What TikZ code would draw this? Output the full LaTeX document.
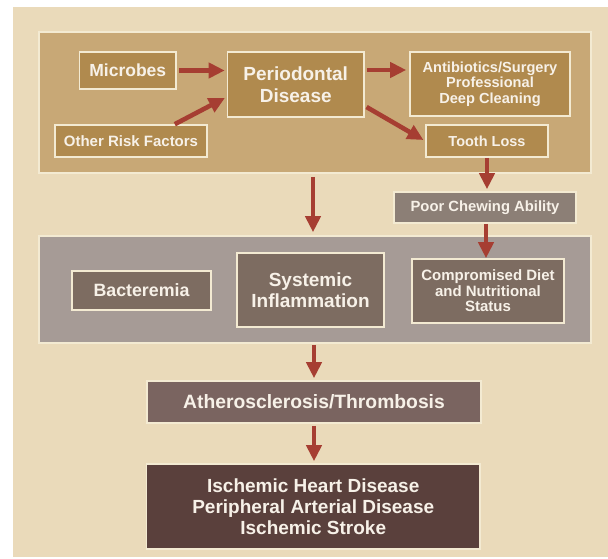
\documentclass[tikz,border=0pt]{standalone}
\usepackage{fontspec}
\setmainfont{Liberation Sans}
\usetikzlibrary{arrows.meta,calc}
\definecolor{bgc}{HTML}{EADABA}
\definecolor{toppanelc}{HTML}{C8A876}
\definecolor{topboxc}{HTML}{B08A4E}
\definecolor{poorc}{HTML}{8C7F76}
\definecolor{midpanelc}{HTML}{A69B96}
\definecolor{midboxc}{HTML}{7D6C61}
\definecolor{atheroc}{HTML}{7A6460}
\definecolor{ischc}{HTML}{5A403C}
\definecolor{arrowc}{HTML}{A63E32}
\definecolor{edgec}{HTML}{F3EAD2}
\definecolor{txtc}{HTML}{F7F1E8}
\newcommand{\fs}[2]{\bfseries\fontsize{#1}{#2}\selectfont}
\begin{document}
\begin{tikzpicture}[x=1pt,y=-1pt,
  box/.style={draw=edgec, line width=1.6pt, text=txtc, align=center, inner sep=0pt, anchor=center},
  arr/.style={draw=arrowc, line width=4.6pt, -{Triangle[width=15pt,length=16pt]}}]
\useasboundingbox (0,0) rectangle (608,559);
\fill[white] (0,0) rectangle (608,559);
\fill[bgc] (13,7) rectangle (608,557);
% panels
\node[box, fill=toppanelc, minimum width=552pt, minimum height=141pt] (toppanel) at (315,102.5) {};
\node[box, fill=midpanelc, minimum width=552pt, minimum height=107pt] (middle) at (315,289.5) {};
% top boxes
\node[box, fill=topboxc, minimum width=96.5pt, minimum height=37pt, font=\fs{17.5}{20}] (microbes) at (127.75,70.5) {Microbes};
\node[box, fill=topboxc, minimum width=136.5pt, minimum height=65pt, font=\fs{19}{22.5}] (periodontal) at (295.75,84.5) {Periodontal\\Disease};
\node[box, fill=topboxc, minimum width=160pt, minimum height=64pt, font=\fs{14.6}{15.5}] (antibiotics) at (490,84) {Antibiotics/Surgery\\Professional\\Deep Cleaning};
\node[box, fill=topboxc, minimum width=152pt, minimum height=32pt, font=\fs{15}{17}] (other) at (131,141) {Other Risk Factors};
\node[box, fill=topboxc, minimum width=122pt, minimum height=32pt, font=\fs{14.5}{17}] (tooth) at (487,141) {Tooth Loss};
\node[box, fill=poorc, minimum width=182pt, minimum height=31pt, font=\fs{14.8}{17}] (poor) at (485,207.5) {Poor Chewing Ability};
% middle boxes
\node[box, fill=midboxc, minimum width=139pt, minimum height=39pt, font=\fs{17.8}{20}] (bacteremia) at (141.5,290.5) {Bacteremia};
\node[box, fill=midboxc, minimum width=147pt, minimum height=74pt, font=\fs{19}{20.5}] (systemic) at (310.5,290) {Systemic\\Inflammation};
\node[box, fill=midboxc, minimum width=152pt, minimum height=64pt, font=\fs{15}{15.5}] (compromised) at (488,291) {Compromised Diet\\and Nutritional\\Status};
% bottom boxes
\node[box, fill=atheroc, minimum width=334pt, minimum height=42pt, font=\fs{19.3}{22}] (athero) at (314,402) {Atherosclerosis/Thrombosis};
\node[box, fill=ischc, minimum width=333.5pt, minimum height=85pt, font=\fs{19}{21}] (ischemic) at (313.25,506.5) {Ischemic Heart Disease\\Peripheral Arterial Disease\\Ischemic Stroke};
% helper coordinates
\coordinate (pdup) at ([yshift=14.5pt]periodontal.east);
\coordinate (pddown) at ([yshift=-21.5pt]periodontal.east);
\coordinate (othertop) at ([xshift=-33pt]other.north east);
\coordinate (pdlow) at ([yshift=-12.5pt]periodontal.west);
% arrows
\draw[arr, shorten <=2pt, shorten >=2pt] (microbes.east) -- (periodontal.west |- microbes.east);
\draw[arr, shorten >=2pt] (othertop) -- (pdlow);
\draw[arr, shorten <=2pt, shorten >=3pt] (pdup) -- (antibiotics.west |- pdup);
\draw[arr, shorten <=2pt, shorten >=2pt] (pddown) -- (tooth.west);
\draw[arr, shorten >=2pt] (tooth.south) -- (tooth.south |- poor.north);
\draw[arr, shorten <=3pt, shorten >=3pt] ([xshift=-2pt]toppanel.south) -- ([xshift=-2pt]toppanel.south |- middle.north);
\draw[arr] ([xshift=1pt]poor.south) -- ([xshift=1pt]poor.south |- compromised.north);
\draw[arr, shorten <=1pt, shorten >=2pt] (middle.south -| athero.north) -- (athero.north);
\draw[arr, shorten <=2pt, shorten >=2pt] (athero.south) -- (athero.south |- ischemic.north);
\end{tikzpicture}
\end{document}
